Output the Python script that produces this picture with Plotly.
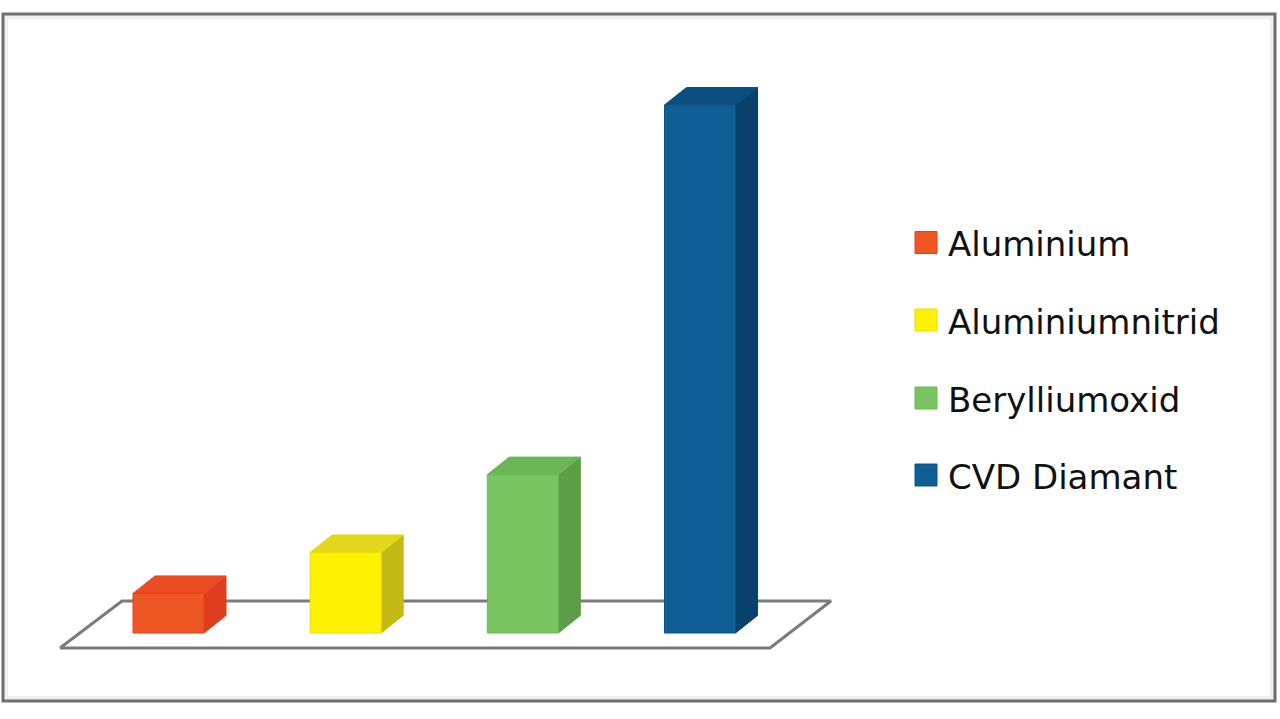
import plotly.graph_objects as go

# ---- data ----
categories = ["Aluminium", "Aluminiumnitrid", "Berylliumoxid", "CVD Diamant"]
values = [150, 305, 600, 2000]

# ---- styles ----
front_colors = ["#EE5623", "#FFF200", "#77C460", "#0F5E95"]
top_colors = ["#EC4B22", "#E2D71A", "#6AB554", "#0B4F80"]
side_colors = ["#DE3D1F", "#C4BA16", "#5C9E47", "#08416B"]
edge_colors = ["#F03A20", "#E8E000", "#6DB957", "#0D5589"]

W, H = 1280, 719
px_per_cat = 177.17        # horizontal pixels per category
x0_px = 168.5              # pixel position of first category centre
base_px = 633              # pixel of value 0
px_per_unit = 528 / 2000   # vertical pixels per value unit

bar_w = 71 / px_per_cat
dx = 22 / px_per_cat       # depth offset (x)
dy = 17.5 / px_per_unit    # depth offset (y)

xr = [(0 - x0_px) / px_per_cat, (W - x0_px) / px_per_cat]
yr = [(base_px - H) / px_per_unit, base_px / px_per_unit]


def px_x(p):
    return (p - x0_px) / px_per_cat


def px_y(p):
    return (base_px - p) / px_per_unit


fig = go.Figure()

# floor (parallelogram)
fl_front = [px_x(60), px_x(770)]
fl_back = [px_x(122), px_x(831)]
fl_y_front = px_y(648)
fl_y_back = px_y(601)
fig.add_trace(go.Scatter(
    x=[fl_front[0], fl_front[1], fl_back[1], fl_back[0], fl_front[0]],
    y=[fl_y_front, fl_y_front, fl_y_back, fl_y_back, fl_y_front],
    mode="lines", fill="toself", fillcolor="white",
    line=dict(color="#7B7B7B", width=3), hoverinfo="skip", showlegend=False))

for i, (cat, v) in enumerate(zip(categories, values)):
    xl, xrr = i - bar_w / 2, i + bar_w / 2
    # side face
    fig.add_trace(go.Scatter(
        x=[xrr, xrr + dx, xrr + dx, xrr, xrr],
        y=[0, dy, v + dy, v, 0],
        mode="lines", fill="toself", fillcolor=side_colors[i],
        line=dict(color=side_colors[i], width=1), hoverinfo="skip", showlegend=False))
    # top face
    fig.add_trace(go.Scatter(
        x=[xl, xrr, xrr + dx, xl + dx, xl],
        y=[v, v, v + dy, v + dy, v],
        mode="lines", fill="toself", fillcolor=top_colors[i],
        line=dict(color=top_colors[i], width=1), hoverinfo="skip", showlegend=False))
    # front face
    fig.add_trace(go.Scatter(
        x=[xl, xrr, xrr, xl, xl],
        y=[0, 0, v, v, 0],
        mode="lines", fill="toself", fillcolor=front_colors[i],
        line=dict(color=edge_colors[i], width=1), name=cat,
        hovertemplate=cat + ": %{text}<extra></extra>", text=[v] * 5,
        showlegend=False))


def pxp_x(p):
    return p / W


def pxp_y(p):
    return 1 - p / H


# manual legend + outer frame
leg_rows_px = [242.5, 320, 398, 475]
shapes = [
    dict(type="rect", xref="paper", yref="paper",
         x0=pxp_x(6), x1=pxp_x(1272), y0=pxp_y(698), y1=pxp_y(17),
         line=dict(color="#F0F0F0", width=4), fillcolor="rgba(0,0,0,0)"),
    dict(type="rect", xref="paper", yref="paper",
         x0=pxp_x(3), x1=pxp_x(1275), y0=pxp_y(701), y1=pxp_y(14),
         line=dict(color="#6E6E6E", width=3), fillcolor="rgba(0,0,0,0)"),
]
annotations = []
for i, cat in enumerate(categories):
    cy = leg_rows_px[i]
    shapes.append(dict(type="rect", xref="paper", yref="paper",
                       x0=pxp_x(915), x1=pxp_x(937), y0=pxp_y(cy + 11), y1=pxp_y(cy - 11),
                       fillcolor=front_colors[i], line=dict(color=edge_colors[i], width=1)))
    annotations.append(dict(xref="paper", yref="paper", x=pxp_x(946), y=pxp_y(cy + 2),
                            xanchor="left", yanchor="middle", text=cat, showarrow=False,
                            font=dict(family="DejaVu Sans", size=34, color="#111111")))

fig.update_layout(
    width=W, height=H, margin=dict(l=0, r=0, t=0, b=0),
    paper_bgcolor="white", plot_bgcolor="white",
    xaxis=dict(range=xr, visible=False, fixedrange=True),
    yaxis=dict(range=yr, visible=False, fixedrange=True),
    shapes=shapes, annotations=annotations, showlegend=False)

fig.write_html(
    "out.html",
    config={"displayModeBar": False},
    post_script="document.body.style.margin='0';document.body.style.overflow='hidden';")
